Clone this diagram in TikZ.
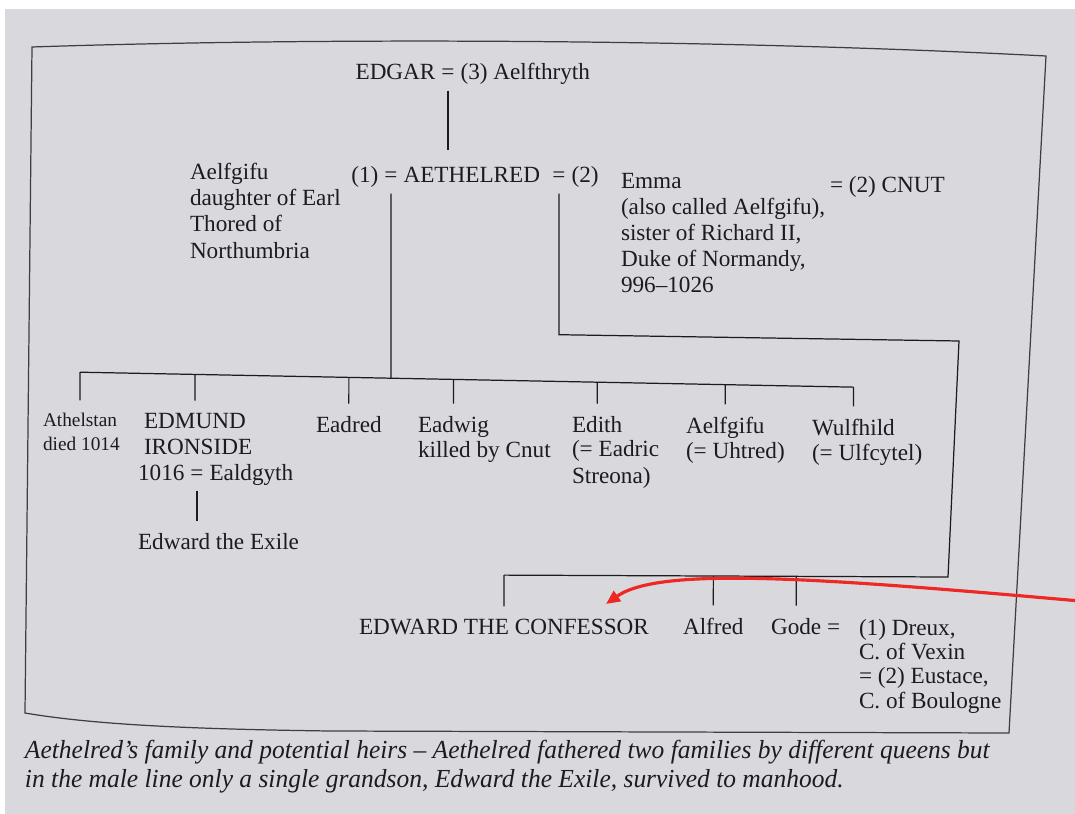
\documentclass[tikz,border=0pt]{standalone}
\usepackage{fontspec}
\setmainfont{Liberation Serif}
\newfontfamily\capfont{Liberation Serif}[FakeStretch=0.98]
\usetikzlibrary{arrows.meta, calc}

\definecolor{pagegrey}{RGB}{217,217,221}
\definecolor{ink}{RGB}{28,28,32}
\definecolor{redpen}{RGB}{238,40,36}

\begin{document}
\begin{tikzpicture}[x=0.02cm, y=-0.02cm]
  % one unit = one pixel of the page, y runs downwards
  % (a block of several lines sits on the baseline of its last line)
  \tikzset{
    person/.style={anchor=base west, inner sep=0pt, outer sep=0pt, text=ink,
      font=\fontsize{13.2}{14.8}\selectfont},
    note/.style={person, align=left},
    tie/.style={person, anchor=base},
    tree/.style={draw=ink, line width=0.7pt},
    descent/.style={tree, shorten <=6pt},
    drop/.style={tree, shorten >=7pt},
    pageframe/.style={draw=ink!85, line width=0.7pt},
    captionline/.style={person, font=\capfont\itshape\fontsize{14.8}{16.3}\selectfont}
  }

  % page
  \fill[white] (0,0) rectangle (1075,814);
  \fill[pagegrey] (5,9) rectangle (1075,814);
  \useasboundingbox (0,0) rectangle (1075,814);

  % frame (the photo bends it a little)
  \draw[pageframe] (32,47) .. controls (300,38) and (700,38) .. (1046,56)
    -- (1009,733) -- (330,731) .. controls (180,729) and (90,724) .. (25,713) -- cycle;

  % Edgar
  \node[tie] (edgartie) at (448,80) {=};
  \node[person, anchor=base east] (edgar) at ($(edgartie.base west)+(-6,0)$) {EDGAR};
  \node[person] (aelfthryth) at ($(edgartie.base east)+(6,0)$) {(3) Aelfthryth};

  % Aethelred and his wives
  \node[tie] (tie1) at (391,183) {=};
  \node[person, anchor=base east] (firstno) at ($(tie1.base west)+(-6,0)$) {(1)};
  \node[person] (aethelred) at ($(tie1.base east)+(6,0)$) {AETHELRED};
  \node[tie] (tie2) at (559,183) {=};
  \node[person] (secondno) at ($(tie2.base east)+(6,0)$) {(2)};
  \node[note] (elfgifu) at (190,258) {Aelfgifu\\daughter of Earl\\Thored of\\Northumbria};
  \node[note] (emma) at (621,293) {Emma\\(also called Aelfgifu),\\sister of Richard II,\\Duke of Normandy,\\996–1026};
  \node[person] (cnut) at (830,193) {= (2) CNUT};

  % first family
  \node[person, font=\fontsize{11}{13.8}\selectfont] (athelstan) at (43,426) {Athelstan};
  \node[note, font=\fontsize{11}{13.8}\selectfont] (athelstand) at ($(athelstan.base west)+(0,24)$) {died 1014};
  \node[person] (edmund) at (144,428) {EDMUND};
  \node[person] (ironside) at ($(edmund.base west)+(0,26)$) {IRONSIDE};
  \node[tie] (edmundtie) at (197,480) {=};
  \node[person, anchor=base east] (edmundyr) at ($(edmundtie.base west)+(-6,0)$) {1016};
  \node[person] (ealdgyth) at ($(edmundtie.base east)+(6,0)$) {Ealdgyth};
  \node[person] (exile) at (138,549) {Edward the Exile};
  \node[person] (eadred) at (316,432) {Eadred};
  \node[person] (eadwig) at (418,432) {Eadwig};
  \node[note] (eadwigd) at ($(eadwig.base west)+(0,25)$) {killed by Cnut};
  \node[person] (edith) at (572,432) {Edith};
  \node[note] (edithd) at ($(edith.base west)+(0,51)$) {(= Eadric\\Streona)};
  \node[person] (aelfgifu) at (686,433) {Aelfgifu};
  \node[note] (aelfgifud) at ($(aelfgifu.base west)+(0,25)$) {(= Uhtred)};
  \node[person] (wulfhild) at (812,435) {Wulfhild};
  \node[note] (wulfhildd) at ($(wulfhild.base west)+(0,25)$) {(= Ulfcytel)};

  % second family
  \node[person] (confessor) at (359,634) {EDWARD THE CONFESSOR};
  \node[person] (alfred) at (683,634) {Alfred};
  \node[person] (gode) at (771,634) {Gode};
  \node[person] (godetie) at ($(gode.base east)+(6,0)$) {=};
  \node[note, font=\fontsize{13.2}{13.8}\selectfont] (godeh) at (859,708)
    {(1) Dreux,\\C. of Vexin\\= (2) Eustace,\\C. of Boulogne};

  % bars
  \coordinate (bar1) at (74,372);
  \coordinate (bar2) at (849,387);
  \coordinate (em-b) at (959,341);
  \coordinate (em-c) at (948,577);
  \coordinate (bar3) at (495,575);
  \coordinate (em-a) at ($(tie2.center)+(0,157)$);
  \coordinate (kids-fork) at (intersection of bar1--bar2 and tie1.center--tie1.south);
  \foreach \c in {athelstan, edmund, eadred, eadwig, edith, aelfgifu, wulfhild}
    \coordinate (\c-up) at (intersection of bar1--bar2 and \c.center--\c.south);
  \foreach \c in {confessor, alfred, gode}
    \coordinate (\c-up) at (intersection of bar3--em-c and \c.center--\c.south);

  % lines of descent
  \draw[descent, shorten >=10pt] (edgartie) -- (edgartie |- aethelred.north);
  \draw[descent] (tie1) -- (kids-fork);
  \draw[tree] (athelstan-up) -- (wulfhild-up);
  \foreach \c in {athelstan, edmund, eadred, eadwig, edith, aelfgifu, wulfhild}
    \draw[drop] (\c-up) -- (\c);
  \draw[descent, drop] (edmundtie) -- (edmundtie |- exile.north);
  \draw[descent] (tie2) -- (em-a) -- (em-b) -- (em-c) -- (confessor-up);
  \foreach \c in {confessor, alfred, gode}
    \draw[drop] (\c-up) -- (\c);

  % red pen mark
  \coordinate (pen-start) at (1080,601);
  \coordinate (pen-tip) at (606,604);
  \draw[redpen, line width=1.8pt, -{Triangle[length=8pt, width=7pt]}]
    (pen-start) .. controls (820,578) and (660,566) .. (pen-tip);

  % caption
  \node[captionline] (caption1) at (25,758)
    {Aethelred’s family and potential heirs – Aethelred fathered two families by different queens but};
  \node[captionline] (caption2) at (25,787)
    {in the male line only a single grandson, Edward the Exile, survived to manhood.};
\end{tikzpicture}
\end{document}
